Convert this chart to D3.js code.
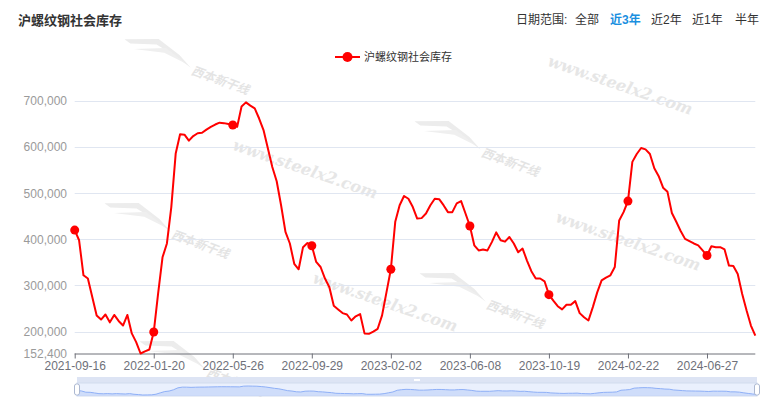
<!DOCTYPE html>
<html>
<head>
<meta charset="utf-8">
<script src="https://cdn.jsdelivr.net/npm/d3@7"></script>
<style>
  html, body { margin: 0; padding: 0; background: #fff; }
  svg { display: block; }
  text { font-family: "Liberation Sans", Arial, "Noto Sans CJK SC", sans-serif; }
</style>
</head>
<body>
<svg id="chart" width="771" height="414"></svg>
<script>
const title = "沪螺纹钢社会库存";
const seriesName = "沪螺纹钢社会库存";
const rangeLabel = "日期范围:";
const rangeOptions = ["全部", "近3年", "近2年", "近1年", "半年"];
const activeOption = "近3年";

const dates = [
  "2021-09-16","2021-09-23","2021-09-30","2021-10-07","2021-10-14","2021-10-21","2021-10-28","2021-11-04","2021-11-11","2021-11-18",
  "2021-11-25","2021-12-02","2021-12-09","2021-12-16","2021-12-23","2021-12-30","2022-01-06","2022-01-13","2022-01-20","2022-01-27",
  "2022-02-03","2022-02-10","2022-02-17","2022-02-24","2022-03-03","2022-03-10","2022-03-17","2022-03-24","2022-03-31","2022-04-07",
  "2022-04-14","2022-04-21","2022-04-28","2022-05-05","2022-05-12","2022-05-19","2022-05-26","2022-06-02","2022-06-09","2022-06-16",
  "2022-06-23","2022-06-30","2022-07-07","2022-07-14","2022-07-21","2022-07-28","2022-08-04","2022-08-11","2022-08-18","2022-08-25",
  "2022-09-01","2022-09-08","2022-09-15","2022-09-22","2022-09-29","2022-10-06","2022-10-13","2022-10-20","2022-10-27","2022-11-03",
  "2022-11-10","2022-11-17","2022-11-24","2022-12-01","2022-12-08","2022-12-15","2022-12-22","2022-12-29","2023-01-05","2023-01-12",
  "2023-01-19","2023-01-26","2023-02-02","2023-02-09","2023-02-16","2023-02-23","2023-03-02","2023-03-09","2023-03-16","2023-03-23",
  "2023-03-30","2023-04-06","2023-04-13","2023-04-20","2023-04-27","2023-05-04","2023-05-11","2023-05-18","2023-05-25","2023-06-01",
  "2023-06-08","2023-06-15","2023-06-22","2023-06-29","2023-07-06","2023-07-13","2023-07-20","2023-07-27","2023-08-03","2023-08-10",
  "2023-08-17","2023-08-24","2023-08-31","2023-09-07","2023-09-14","2023-09-21","2023-09-28","2023-10-12","2023-10-19","2023-10-26",
  "2023-11-02","2023-11-09","2023-11-16","2023-11-23","2023-11-30","2023-12-07","2023-12-14","2023-12-21","2023-12-28","2024-01-04",
  "2024-01-11","2024-01-18","2024-01-25","2024-02-01","2024-02-08","2024-02-15","2024-02-22","2024-02-29","2024-03-07","2024-03-14",
  "2024-03-21","2024-03-28","2024-04-04","2024-04-11","2024-04-18","2024-04-25","2024-05-02","2024-05-09","2024-05-16","2024-05-23",
  "2024-05-30","2024-06-06","2024-06-13","2024-06-20","2024-06-27","2024-07-04","2024-07-11","2024-07-18","2024-07-25","2024-08-01",
  "2024-08-08","2024-08-15","2024-08-22","2024-08-29","2024-09-05","2024-09-12"
];

const inventory = [
  420000,398000,322000,315000,275000,235000,226000,237000,220000,236000,
  223000,213000,236000,196000,177000,152400,157000,161000,199000,283000,
  361000,391000,470000,586000,628000,627000,614000,624000,630000,631000,
  638000,644000,649000,653000,652000,650000,648000,644000,688000,697000,
  690000,684000,662000,637000,597000,557000,526000,474000,416000,391000,
  347000,335000,383000,392000,386000,351000,340000,315000,296000,256000,
  248000,240000,237000,224000,233000,238000,196000,195000,200000,206000,
  235000,285000,335000,438000,474000,494000,488000,470000,445000,446000,
  456000,474000,488000,487000,474000,459000,459000,478000,483000,456000,
  429000,387000,376000,378000,376000,394000,415000,398000,395000,405000,
  391000,372000,380000,354000,331000,315000,315000,309000,280000,267000,
  255000,248000,258000,258000,266000,240000,231000,224000,253000,285000,
  311000,317000,322000,340000,441000,459000,483000,568000,585000,598000,
  595000,585000,554000,537000,512000,503000,457000,438000,418000,401000,
  396000,391000,387000,376000,365000,385000,383000,383000,378000,343000,
  342000,325000,282000,246000,213000,191000
];

const yTicks = [200000, 300000, 400000, 500000, 600000, 700000];
const yMin = 152400;
const yMax = 700000;
const labelEvery = 18;

(function () {
const svg = d3.select("#chart");

// ---------- watermarks ----------
const wm = svg.append("g").attr("class", "watermarks");
const urlMarks = [[620, 86], [305, 170], [628, 242], [385, 303]];
urlMarks.forEach(([cx, cy]) => {
  wm.append("text")
    .attr("transform", `translate(${cx},${cy}) rotate(19)`)
    .attr("text-anchor", "middle")
    .attr("dominant-baseline", "middle")
    .style("font-family", "'DejaVu Serif', 'Liberation Serif', serif")
    .style("font-style", "italic").style("font-weight", "bold")
    .style("font-size", "16px")
    .attr("fill", "#e6e6e6")
    .text("www.steelx2.com");
});
const logoMarks = [[180, 68], [160, 232], [470, 150], [475, 302], [195, 370]];
logoMarks.forEach(([cx, cy]) => {
  const g = wm.append("g").attr("transform", `translate(${cx},${cy}) rotate(20)`);
  g.append("path")
    .attr("d", "M-62,-8 L-30,-20 L-5,-12 L10,-4 L-10,-10 L-30,-14 L-55,-6 Z")
    .attr("fill", "#ececec");
  g.append("path")
    .attr("d", "M-50,-2 L-20,-14 L5,-6 L-20,-9 Z")
    .attr("fill", "#efefef");
  g.append("text")
    .attr("x", 12).attr("y", 2)
    .style("font-size", "12px").style("font-weight", "bold").style("font-style", "italic")
    .attr("fill", "#e4e4e4")
    .text("西本新干线");
});

// ---------- header ----------
svg.append("text")
  .attr("x", 18).attr("y", 25)
  .style("font-size", "13px").style("font-weight", "bold")
  .attr("fill", "#333")
  .text(title);

const optX = [575, 610, 651, 692, 735];
svg.append("text")
  .attr("x", 516).attr("y", 24)
  .style("font-size", "12px").attr("fill", "#333")
  .text(rangeLabel);
rangeOptions.forEach((o, i) => {
  svg.append("text")
    .attr("x", optX[i]).attr("y", 24)
    .style("font-size", "12px")
    .style("font-weight", o === activeOption ? "bold" : "normal")
    .attr("fill", o === activeOption ? "#1a8fe0" : "#333")
    .text(o);
});

// ---------- legend ----------
const lg = svg.append("g");
lg.append("line").attr("x1", 335).attr("x2", 360).attr("y1", 57).attr("y2", 57)
  .attr("stroke", "#ff0000").attr("stroke-width", 2);
lg.append("circle").attr("cx", 347.5).attr("cy", 57).attr("r", 5).attr("fill", "#ff0000");
lg.append("text").attr("x", 364).attr("y", 61)
  .style("font-size", "11px").attr("fill", "#333").text(seriesName);

// ---------- scales ----------
const pL = 74.7, pR = 755.3, pT = 101, pB = 353.5;
const x = d3.scalePoint().domain(dates).range([pL, pR]);
const y = d3.scaleLinear().domain([yMin, yMax]).range([pB, pT]);

// grid
svg.append("g").selectAll("line").data(yTicks).join("line")
  .attr("x1", pL).attr("x2", pR)
  .attr("y1", d => Math.round(y(d)) + 0.5).attr("y2", d => Math.round(y(d)) + 0.5)
  .attr("stroke", "#e0e6f1").attr("stroke-width", 1);

// y axis labels
const yAxis = d3.axisLeft(y).tickValues([yMin, ...yTicks]).tickSize(0).tickPadding(0)
  .tickFormat(d3.format(","));
const yg = svg.append("g").attr("transform", `translate(67,0)`).call(yAxis);
yg.select(".domain").remove();
yg.selectAll("text").style("font-size", "12px").attr("fill", "#9a9a9a")
  .style("font-family", "'Liberation Sans', Arial, sans-serif");

// x axis
const labelDates = dates.filter((d, i) => i % labelEvery === 0);
const xAxis = d3.axisBottom(x).tickValues(labelDates).tickSize(5).tickSizeOuter(0).tickPadding(3);
const xg = svg.append("g").attr("transform", `translate(0,${pB})`).call(xAxis);
xg.select(".domain").attr("stroke", "#6e7079").attr("d", `M${pL},0.5H${pR}`);
xg.selectAll(".tick line").attr("stroke", "#6e7079");
xg.selectAll("text").style("font-size", "12px").attr("fill", "#6e7079")
  .style("font-family", "'Liberation Sans', Arial, sans-serif");

// ---------- line ----------
const line = d3.line().x((d, i) => x(dates[i])).y(d => y(d));
svg.append("path").datum(inventory)
  .attr("d", line)
  .attr("fill", "none").attr("stroke", "#ff0000").attr("stroke-width", 2)
  .attr("stroke-linejoin", "round");
svg.append("g").selectAll("circle")
  .data(inventory.map((v, i) => ({ v, i })).filter(d => d.i % labelEvery === 0))
  .join("circle")
  .attr("cx", d => x(dates[d.i])).attr("cy", d => y(d.v))
  .attr("r", 4.5).attr("fill", "#ff0000");

// ---------- data zoom slider ----------
const sL = 77, sR = 757, sT = 377, sB = 396, bandH = 6;
const dz = svg.append("g");
dz.append("rect").attr("x", sL).attr("y", sT).attr("width", sR - sL).attr("height", bandH)
  .attr("fill", "#dde4f4");
dz.append("rect").attr("x", sL).attr("y", sT + bandH).attr("width", sR - sL).attr("height", sB - sT - bandH)
  .attr("fill", "#eaf0fd").attr("stroke", "#d2dbee").attr("stroke-width", 1);
const sx = d3.scalePoint().domain(dates).range([sL, sR]);
const sy = d3.scaleLinear().domain([d3.min(inventory), d3.max(inventory)]).range([sB - 1, sT + bandH + 3]);
dz.append("path").datum(inventory)
  .attr("d", d3.area().x((d, i) => sx(dates[i])).y0(sB).y1(d => sy(d)))
  .attr("fill", "#c3d4f8").attr("opacity", 0.7);
dz.append("path").datum(inventory)
  .attr("d", d3.line().x((d, i) => sx(dates[i])).y(d => sy(d)))
  .attr("fill", "none").attr("stroke", "#8fb0f7").attr("stroke-width", 1);
dz.append("rect").attr("x", (sL + sR) / 2 - 3).attr("y", sT + 2).attr("width", 6).attr("height", 2)
  .attr("fill", "#fff");
[sL, sR].forEach(hx => {
  dz.append("rect").attr("x", hx - 2.5).attr("y", sT + bandH + 1).attr("width", 5).attr("height", 11)
    .attr("rx", 2).attr("fill", "#fff").attr("stroke", "#acb8d1").attr("stroke-width", 1);
});
})();
</script>
</body>
</html>
